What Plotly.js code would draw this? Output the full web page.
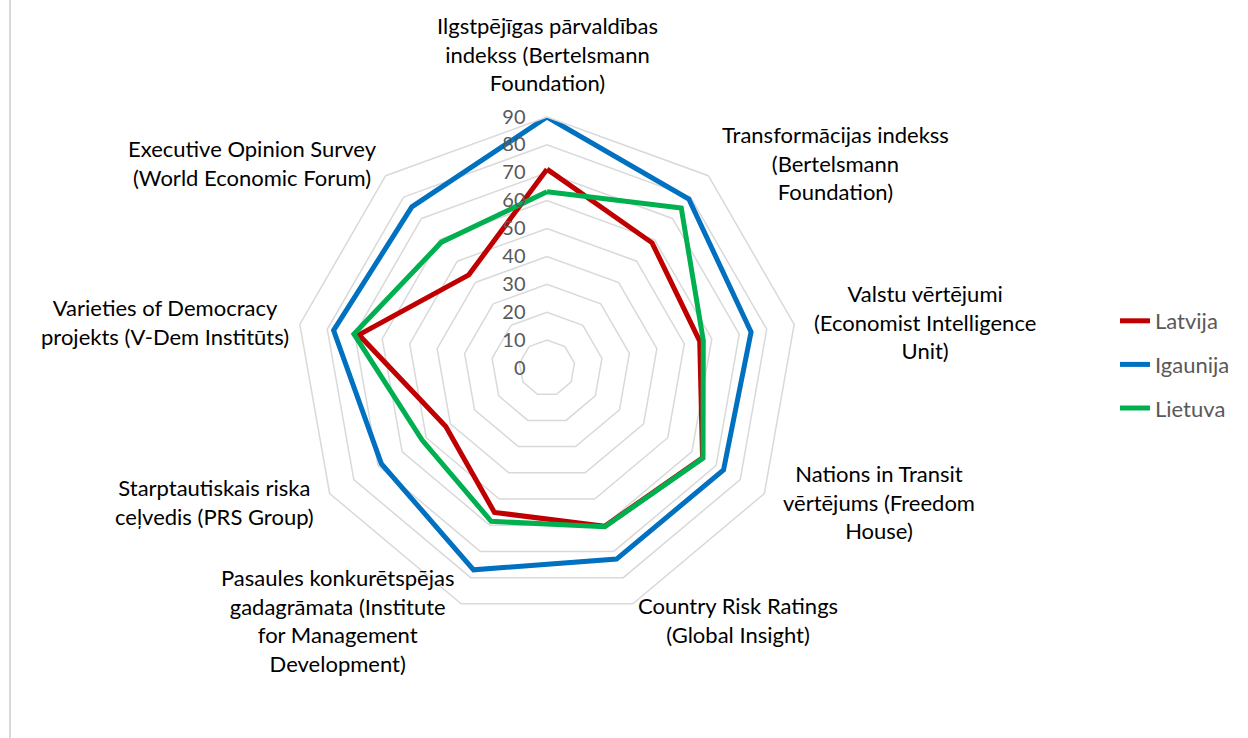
<!DOCTYPE html>
<html><head><meta charset="utf-8">
<script src="https://cdn.plot.ly/plotly-3.0.1.min.js"></script>
<style>html,body{margin:0;padding:0;background:#fff}#chart{width:1248px;height:738px}</style>
</head><body><div id="chart"></div>
<script>
// Data
const categories = [
  "Ilgstpējīgas pārvaldības indekss (Bertelsmann Foundation)",
  "Transformācijas indekss (Bertelsmann Foundation)",
  "Valstu vērtējumi (Economist Intelligence Unit)",
  "Nations in Transit vērtējums (Freedom House)",
  "Country Risk Ratings (Global Insight)",
  "Pasaules konkurētspējas gadagrāmata (Institute for Management Development)",
  "Starptautiskais riska ceļvedis (PRS Group)",
  "Varieties of Democracy projekts (V-Dem Institūts)",
  "Executive Opinion Survey (World Economic Forum)"
];
const categoryLabels = [
  "Ilgstpējīgas pārvaldības<br>indekss (Bertelsmann<br>Foundation)",
  "Transformācijas indekss<br>(Bertelsmann<br>Foundation)",
  "Valstu vērtējumi<br>(Economist Intelligence<br>Unit)",
  "Nations in Transit<br>vērtējums (Freedom<br>House)",
  "Country Risk Ratings<br>(Global Insight)",
  "Pasaules konkurētspējas<br>gadagrāmata (Institute<br>for Management<br>Development)",
  "Starptautiskais riska<br>ceļvedis (PRS Group)",
  "Varieties of Democracy<br>projekts (V-Dem Institūts)",
  "Executive Opinion Survey<br>(World Economic Forum)"
];
const seriesNames = ["Latvija", "Igaunija", "Lietuva"];
const latvija  = [71.3, 58.6, 55.6, 64.4, 60.4, 55.1, 41.9, 68.5, 43.6];
const igaunija = [90.0, 79.1, 74.3, 73.1, 72.9, 77.0, 68.6, 77.7, 75.4];
const lietuva  = [63.2, 74.9, 56.9, 64.6, 60.6, 58.5, 51.7, 70.3, 58.9];
const radialTicks = [0, 10, 20, 30, 40, 50, 60, 70, 80, 90];

// Layout / style
const W = 1248, H = 738;
const CX = 547, CY = 368, R = 251;
const colors = ["#C00000", "#0070C0", "#00B050"];
const labelPos = [[547,54],[836,163],[925,322],[879,502],[738,620],[337,620],[214,502],[165,322],[252,163]];

function closed(a){ return a.concat([a[0]]); }
const values = [latvija, igaunija, lietuva];
const traces = values.map((v, i) => ({
  type: "scatterpolar",
  mode: "lines",
  r: closed(v),
  theta: closed(categories),
  name: seriesNames[i],
  legendgroup: "g" + i,
  line: {color: colors[i], width: 5, shape: "linear"},
  hoverinfo: "name+r"
}));

const annotations = categoryLabels.map((t, i) => ({
  text: t, xref: "paper", yref: "paper",
  x: labelPos[i][0] / W, y: 1 - labelPos[i][1] / H,
  xanchor: "center", yanchor: "middle", showarrow: false, align: "center",
  font: {family: "Lato, 'Open Sans', sans-serif", size: 22, color: "#000000"}
}));

const layout = {
  width: W, height: H,
  margin: {l: 0, r: 0, t: 0, b: 0},
  paper_bgcolor: "#ffffff",
  font: {family: "Lato, 'Open Sans', sans-serif"},
  showlegend: true,
  legend: {
    x: 1115 / W, y: 1 - 300 / H, xanchor: "left", yanchor: "top",
    font: {size: 22, color: "#595959"},
    tracegroupgap: 12, traceorder: "grouped", bgcolor: "rgba(0,0,0,0)"
  },
  polar: {
    domain: {x: [(CX - R) / W, (CX + R) / W], y: [(H - CY - R) / H, (H - CY + R) / H]},
    gridshape: "linear",
    bgcolor: "rgba(0,0,0,0)",
    radialaxis: {
      range: [0, 90], tickvals: radialTicks, ticktext: radialTicks.map(String),
      showline: false, gridcolor: "#d9d9d9", gridwidth: 1.5,
      ticks: "outside", ticklen: 14, tickcolor: "rgba(0,0,0,0)",
      side: "counterclockwise", angle: 90, tickangle: 90,
      tickfont: {size: 20, color: "#595959"}
    },
    angularaxis: {
      rotation: 90, direction: "clockwise", type: "category",
      categoryarray: categories,
      showgrid: false, showline: true, linecolor: "#d9d9d9", linewidth: 1.5,
      showticklabels: false, ticks: ""
    }
  },
  shapes: [{type: "line", xref: "paper", yref: "paper", x0: 10 / W, x1: 10 / W, y0: 0, y1: 1,
            line: {color: "#d9d9d9", width: 2}}],
  annotations: annotations
};

Plotly.newPlot("chart", traces, layout, {displayModeBar: false, staticPlot: true});
</script>
</body></html>
